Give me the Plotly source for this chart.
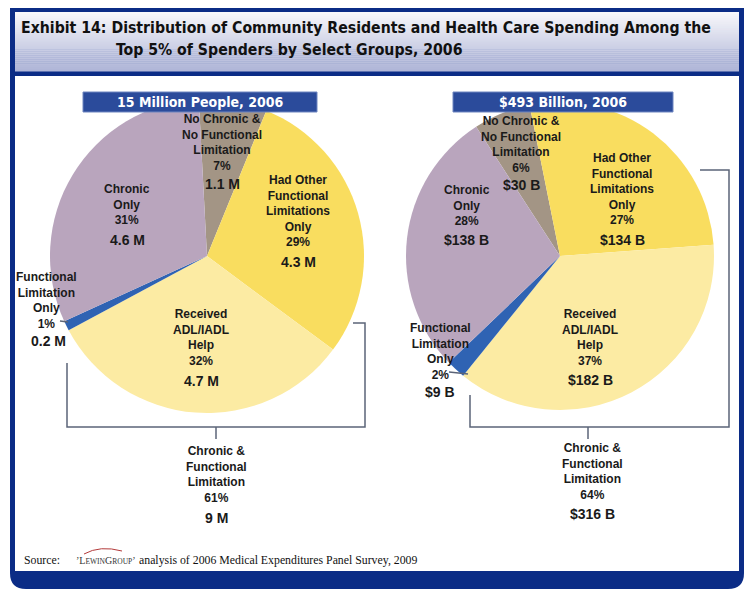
import plotly.graph_objects as go

W, H = 755, 596
OFF = 8  # page body margin

# ---------------- data ----------------
segments = ["No Chronic & No Functional Limitation", "Had Other Functional Limitations Only",
            "Received ADL/IADL Help", "Functional Limitation Only", "Chronic Only"]
seg_text = ["No Chronic &<br>No Functional<br>Limitation", "Had Other<br>Functional<br>Limitations<br>Only",
            "Received<br>ADL/IADL<br>Help", "Functional<br>Limitation<br>Only", "Chronic<br>Only"]
people_pct = [7, 29, 32, 1, 31]
people_mil = [1.1, 4.3, 4.7, 0.2, 4.6]
spend_pct = [6, 27, 37, 2, 28]
spend_bil = [30, 134, 182, 9, 138]
group_label = "Chronic &<br>Functional<br>Limitation"
people_group_pct, people_group_mil = 61, 9
spend_group_pct, spend_group_bil = 64, 316
people_title = "15 Million People, 2006"
spend_title = "$493 Billion, 2006"

colors = ["#A39585", "#F9DD5F", "#FCEBA3", "#2F63B3", "#B9A5BD"]

NAVY = "#0B2C86"
BANNER = "#2B4B9B"
BRACKET = "#5B6478"


def X(px):
    return (px - OFF) / W


def Y(py):
    return 1 - (py - OFF) / H


def dom(x0, x1, y0, y1):
    return dict(x=[X(x0), X(x1)], y=[Y(y1), Y(y0)])


fig = go.Figure()
fig.add_trace(go.Pie(labels=segments, values=people_pct, sort=False, direction="clockwise",
                     rotation=-3, marker=dict(colors=colors, line=dict(width=0)),
                     textinfo="none", hoverinfo="label+percent", showlegend=False,
                     domain=dom(50, 364, 99, 413)))
fig.add_trace(go.Pie(labels=segments, values=spend_pct, sort=False, direction="clockwise",
                     rotation=-33, marker=dict(colors=colors, line=dict(width=0)),
                     textinfo="none", hoverinfo="label+percent", showlegend=False,
                     domain=dom(406, 714, 101, 411)))

shapes = []
# outer navy frame with rounded bottom corners
r = 16
shapes.append(dict(type="path", xref="paper", yref="paper", layer="below",
                   path=(f"M {X(10)} {Y(8)} L {X(744)} {Y(8)} L {X(744)} {Y(589 - r)} "
                         f"Q {X(744)} {Y(589)} {X(744 - r)} {Y(589)} L {X(10 + r)} {Y(589)} "
                         f"Q {X(10)} {Y(589)} {X(10)} {Y(589 - r)} Z"),
                   fillcolor=NAVY, line=dict(width=0)))
# title gradient band
top_c = (248, 248, 251)
bot_c = (176, 182, 216)
n = 30
t0, t1 = 12, 71
for i in range(n):
    f = i / (n - 1)
    c = tuple(int(top_c[k] + (bot_c[k] - top_c[k]) * f) for k in range(3))
    ya = t0 + (t1 - t0) * i / n
    yb = t0 + (t1 - t0) * (i + 1) / n + 0.5
    shapes.append(dict(type="rect", xref="paper", yref="paper", layer="below",
                       x0=X(15), x1=X(739), y0=Y(ya), y1=Y(yb),
                       fillcolor=f"rgb{c}", line=dict(width=0)))
# white content area
shapes.append(dict(type="rect", xref="paper", yref="paper", layer="below",
                   x0=X(15), x1=X(739), y0=Y(76), y1=Y(571), fillcolor="white", line=dict(width=0)))
# banners
for bx0, bx1 in [(83, 317), (453, 673)]:
    shapes.append(dict(type="rect", xref="paper", yref="paper", layer="above",
                       x0=X(bx0), x1=X(bx1), y0=Y(92), y1=Y(112),
                       fillcolor=BANNER, line=dict(color="#6F86C0", width=1)))


def line(pts, color=BRACKET, width=1.5):
    path = "M " + " L ".join(f"{X(a)} {Y(b)}" for a, b in pts)
    shapes.append(dict(type="path", xref="paper", yref="paper", layer="above",
                       path=path, line=dict(color=color, width=width)))


# left bracket
line([(67, 363), (67, 427), (365, 427), (365, 323), (353, 323)])
line([(216, 427), (216, 439)])
# right bracket
line([(470, 395), (470, 427), (729, 427), (729, 170), (700, 170)])
line([(588, 427), (588, 439)])
# leader lines for small slices
line([(60, 321), (68, 322)])
line([(449, 372), (468, 374)])
# logo swoosh
shapes.append(dict(type="path", xref="paper", yref="paper", layer="above",
                   path=f"M {X(84)} {Y(554)} Q {X(100)} {Y(545)} {X(122)} {Y(551)}",
                   line=dict(color="#B33A3A", width=1)))

fig.update_layout(shapes=shapes)

ann = []
LAB = dict(family="Liberation Sans, Arial, sans-serif", size=12, color="#1a1a1a")
VAL = dict(family="Liberation Sans, Arial, sans-serif", size=14, color="#1a1a1a")


def text(x, y, s, font, xanchor="center"):
    ann.append(dict(x=X(x), y=Y(y), xref="paper", yref="paper", text=s, showarrow=False,
                    font=font, xanchor=xanchor, yanchor="middle", align="center"))


# title
TF = dict(family="DejaVu Sans Condensed, Tahoma, sans-serif", size=15.7, color="#111111")
text(19, 27, "<b>Exhibit 14: Distribution of Community Residents and Health Care Spending Among the</b>", TF, "left")
text(114, 49, "<b>Top 5% of Spenders by Select Groups, 2006</b>", TF, "left")

# banners
BF = dict(family="DejaVu Sans Condensed, Tahoma, sans-serif", size=14, color="white")
text(200, 102, f"<b>{people_title}</b>", BF)
text(563, 102, f"<b>{spend_title}</b>", BF)

# left pie labels
left_pos = [(222, 142, 184), (298, 211, 262), (201, 337, 381), (46, 300, 341), (127, 204, 240)]
for i, (x, yl, yv) in enumerate(left_pos):
    text(x, yl, f"<b>{seg_text[i]}<br>{people_pct[i]}%</b>", LAB)
    text(x + (2 if i == 3 else 0), yv, f"<b>{people_mil[i]} M</b>", VAL)

right_pos = [(521, 144, 185), (622, 189, 240), (590, 337, 380), (440, 351, 392), (467, 205, 240)]
for i, (x, yl, yv) in enumerate(right_pos):
    text(x, yl, f"<b>{seg_text[i]}<br>{spend_pct[i]}%</b>", LAB)
    text(x, yv, f"<b>${spend_bil[i]} B</b>", VAL)

# group labels
text(216, 475, f"<b>{group_label}<br>{people_group_pct}%</b>", LAB)
text(216, 518, f"<b>{people_group_mil} M</b>", VAL)
text(592, 471, f"<b>{group_label}<br>{spend_group_pct}%</b>", LAB)
text(592, 514, f"<b>${spend_group_bil} B</b>", VAL)

# source
SF = dict(family="Liberation Serif, Times New Roman, serif", size=11.8, color="#111111")
text(22, 560, "Source:", SF, "left")
text(74, 560, "\u02bcL<span style='font-size:7.5px'>EWIN</span>"
              "G<span style='font-size:7.5px'>ROUP</span>\u02bc",
     dict(family="Liberation Serif, Times New Roman, serif", size=10, color="#333333"), "left")
text(137, 560, "analysis of 2006 Medical Expenditures Panel Survey, 2009", SF, "left")

fig.update_layout(annotations=ann, width=W, height=H, margin=dict(l=0, r=0, t=0, b=0),
                  paper_bgcolor="white", plot_bgcolor="white")
fig.write_html("out.html")
